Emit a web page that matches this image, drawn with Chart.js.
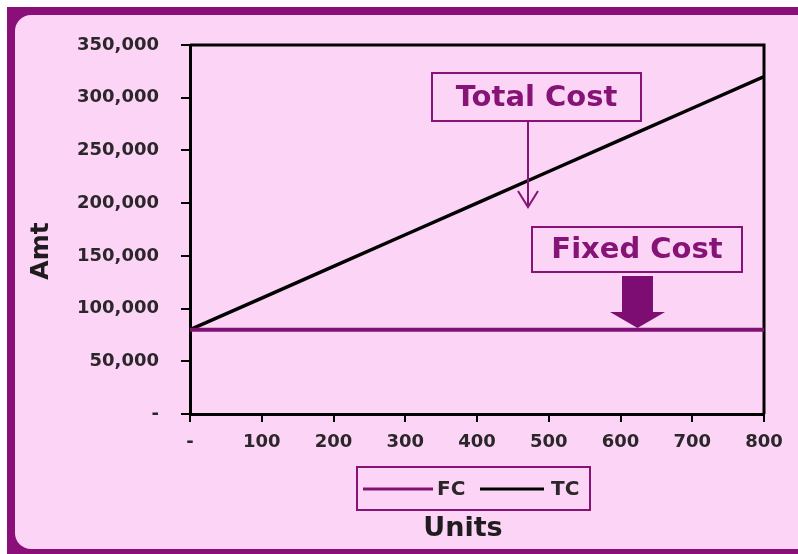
<!DOCTYPE html>
<html>
<head>
<meta charset="utf-8">
<script src="https://cdn.jsdelivr.net/npm/chart.js@4/dist/chart.umd.min.js"></script>
<style>
  html, body { margin: 0; padding: 0; background: #ffffff; }
  #wrap { width: 798px; height: 554px; position: relative; }
</style>
</head>
<body>
<div id="wrap"><canvas id="c" width="798" height="554"></canvas></div>
<script>
// Units produced and the matching cost amounts
const units = [0, 100, 200, 300, 400, 500, 600, 700, 800];
const fixedCost = [80000, 80000, 80000, 80000, 80000, 80000, 80000, 80000, 80000];
const totalCost = [80000, 110000, 140000, 170000, 200000, 230000, 260000, 290000, 320000];
const seriesNames = ['FC', 'TC'];
const callouts = ['Total Cost', 'Fixed Cost'];
const axisTitles = { x: 'Units', y: 'Amt' };

const PINK = '#fcd4f5';
const FRAME = '#8a0f78';
const PURPLE = '#861477';
const LABEL = '#2a262a';
const FONT = 'DejaVu Sans';

function pts(ys) { return units.map((u, i) => ({ x: u, y: ys[i] })); }

// Background panel with the rounded purple frame
const panel = {
  id: 'panel',
  beforeDraw(chart) {
    const ctx = chart.ctx;
    ctx.save();
    ctx.fillStyle = '#ffffff';
    ctx.fillRect(0, 0, 798, 554);
    ctx.fillStyle = FRAME;
    ctx.fillRect(7, 7, 791, 547);
    ctx.fillStyle = PINK;
    ctx.beginPath();
    ctx.roundRect(15, 15, 800, 534, [16, 0, 0, 16]);
    ctx.fill();
    ctx.restore();
  }
};

// Plot frame, callouts, legend and axis titles
const decor = {
  id: 'decor',
  beforeDatasetsDraw(chart) {
    const { ctx, chartArea: a } = chart;
    ctx.save();
    ctx.strokeStyle = '#000';
    ctx.lineWidth = 3;
    ctx.beginPath();
    ctx.moveTo(a.left, a.top);
    ctx.lineTo(a.right, a.top);
    ctx.lineTo(a.right, a.bottom);
    ctx.stroke();
    ctx.restore();
  },
  afterDraw(chart) {
    const ctx = chart.ctx;
    ctx.save();

    // Total Cost callout with open arrow
    ctx.fillStyle = PINK;
    ctx.strokeStyle = PURPLE;
    ctx.lineWidth = 2;
    ctx.fillRect(432, 73, 209, 48);
    ctx.strokeRect(432, 73, 209, 48);
    ctx.font = 'bold 29px "' + FONT + '"';
    ctx.fillStyle = PURPLE;
    ctx.textAlign = 'center';
    ctx.textBaseline = 'middle';
    ctx.fillText(callouts[0], 536.5, 98);
    ctx.beginPath();
    ctx.moveTo(528, 121);
    ctx.lineTo(528, 207);
    ctx.moveTo(518, 191);
    ctx.lineTo(528, 207);
    ctx.lineTo(538, 191);
    ctx.stroke();

    // Fixed Cost callout with block arrow
    ctx.fillStyle = PINK;
    ctx.fillRect(532, 227, 210, 45);
    ctx.strokeRect(532, 227, 210, 45);
    ctx.fillStyle = PURPLE;
    ctx.fillText(callouts[1], 637, 250);
    ctx.fillStyle = '#7d0c73';
    ctx.beginPath();
    ctx.moveTo(622, 276);
    ctx.lineTo(653, 276);
    ctx.lineTo(653, 312);
    ctx.lineTo(665, 312);
    ctx.lineTo(637.5, 328);
    ctx.lineTo(610, 312);
    ctx.lineTo(622, 312);
    ctx.closePath();
    ctx.fill();

    // Legend
    const ds = chart.data.datasets;
    ctx.strokeStyle = PURPLE;
    ctx.lineWidth = 2;
    ctx.strokeRect(357, 467, 233, 43);
    ctx.font = 'bold 20px "' + FONT + '"';
    ctx.textAlign = 'left';
    ctx.fillStyle = LABEL;
    const items = [[363, 433, 437], [480, 544, 551]];
    items.forEach((it, i) => {
      ctx.strokeStyle = ds[i].borderColor;
      ctx.lineWidth = 3;
      ctx.beginPath();
      ctx.moveTo(it[0], 489);
      ctx.lineTo(it[1], 489);
      ctx.stroke();
      ctx.fillText(ds[i].label, it[2], 490);
    });

    // Axis titles
    ctx.fillStyle = '#1f1b1f';
    ctx.textAlign = 'center';
    ctx.font = 'bold 27px "' + FONT + '"';
    ctx.fillText(axisTitles.x, 463, 529);
    ctx.translate(41, 251);
    ctx.rotate(-Math.PI / 2);
    ctx.font = 'bold 25px "' + FONT + '"';
    ctx.fillText(axisTitles.y, 0, 0);
    ctx.restore();
  }
};

const tickFont = { family: FONT, size: 18, weight: 'bold' };

new Chart(document.getElementById('c'), {
  type: 'line',
  data: {
    datasets: [
      { label: seriesNames[0], data: pts(fixedCost), borderColor: '#7e1274', borderWidth: 4, pointRadius: 0, tension: 0 },
      { label: seriesNames[1], data: pts(totalCost), borderColor: '#000000', borderWidth: 3.5, pointRadius: 0, tension: 0 }
    ]
  },
  options: {
    responsive: false,
    animation: false,
    events: [],
    layout: { padding: { left: 20, top: 45, right: 34, bottom: 0 } },
    plugins: { legend: { display: false }, tooltip: { enabled: false } },
    scales: {
      x: {
        type: 'linear',
        min: 0, max: 800,
        afterFit(s) { s.height = 140; },
        border: { color: '#000', width: 3 },
        grid: { drawOnChartArea: false, drawTicks: true, tickLength: 8, color: '#000', lineWidth: 2 },
        ticks: {
          stepSize: 100, padding: 10, color: LABEL, font: tickFont, maxRotation: 0,
          callback: v => v === 0 ? '-' : String(v)
        }
      },
      y: {
        min: 0, max: 350000,
        afterFit(s) { s.width = 170; },
        border: { color: '#000', width: 3 },
        grid: { drawOnChartArea: false, drawTicks: true, tickLength: 9, color: '#000', lineWidth: 2 },
        ticks: {
          stepSize: 50000, padding: 22, color: LABEL, font: tickFont,
          callback: v => v === 0 ? '-' : v.toLocaleString('en-US')
        }
      }
    }
  },
  plugins: [panel, decor]
});
</script>
</body>
</html>
